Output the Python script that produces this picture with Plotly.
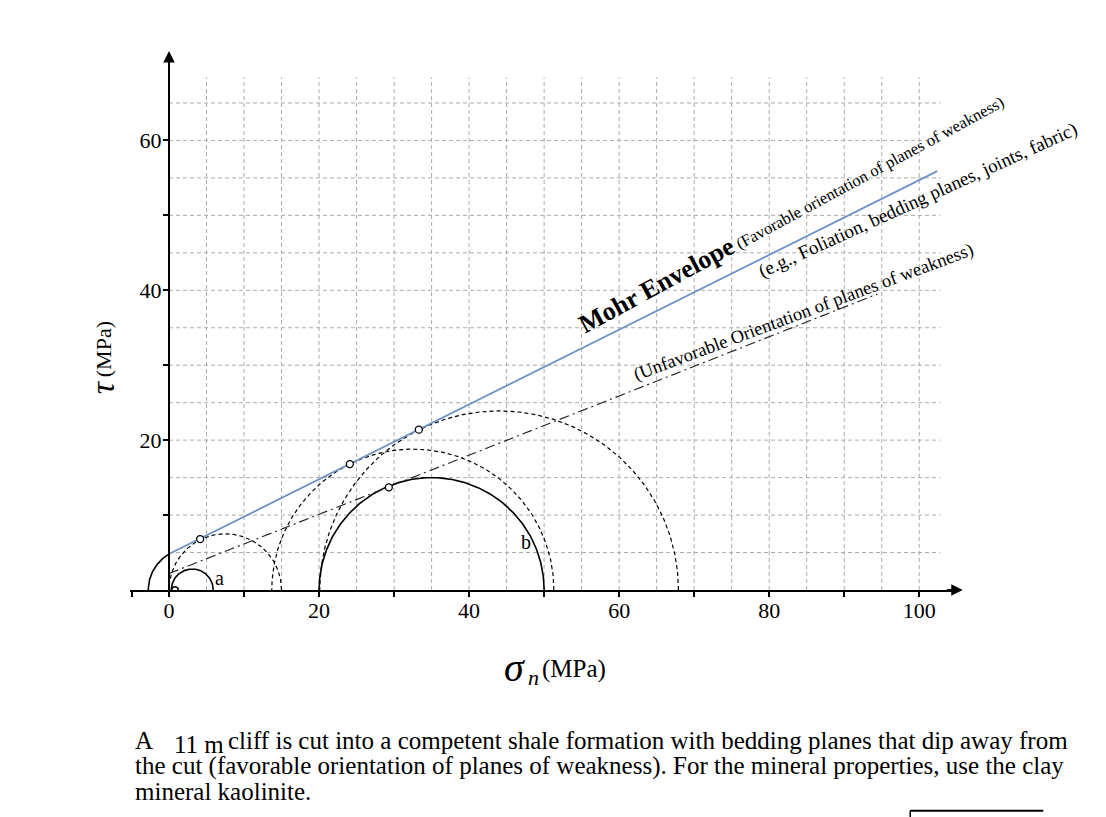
import numpy as np
import plotly.graph_objects as go

# ---------------- data ----------------
x_tick_vals = [-5, 0, 10, 20, 30, 40, 50, 60, 70, 80, 90, 100]
x_tick_text = ["", "0", "", "20", "", "40", "", "60", "", "80", "", "100"]
y_tick_vals = [10, 20, 30, 40, 50, 60]
y_tick_text = ["", "20", "", "40", "", "60"]
grid_x = [5, 10, 15, 20, 25, 30, 35, 40, 45, 50, 55, 60, 65, 70, 75, 80, 85, 90, 95, 100]
grid_y = [5, 10, 15, 20, 25, 30, 35, 40, 45, 50, 55, 60, 65]
grid_x_top = 68.4
grid_y_right = 102.8

solid_centers = [0.8, 3.1, 35.0]
solid_radii = [0.45, 2.8, 15.0]
dashed_centers = [7.5, 32.5, 44.0]
dashed_radii = [7.5, 18.8, 23.9]
tension_center = 2.79
tension_radius = 5.55

envelope_cohesion = 4.8
envelope_slope = 0.499
envelope_end = 102.4
unfav_intercept = 2.2
unfav_slope = 0.395
unfav_end = 94.4

tangent_x = [4.15, 24.1, 33.3, 29.3]
tangent_y = [6.8, 16.8, 21.4, 13.7]

X_RANGE = [-5.2, 104.5]
Y_RANGE = [0, 71]
X_ARROW_TIP = 105.8
Y_ARROW_TIP = 71.95

FONT = "Liberation Serif, Times New Roman, serif"

# ---------------- figure ----------------
W, H = 1106, 817
OFFX, OFFY = 8, 8.5          # page margin of the browser body
L, T = 130 - OFFX, 58.5 - OFFY
PW = (X_RANGE[1] - X_RANGE[0]) * 7.5
PH = (Y_RANGE[1] - Y_RANGE[0]) * 7.5
R = W - L - PW
B = H - T - PH


def px_to_paper(px, py):
    fx, fy = px - OFFX, py - OFFY
    return (fx - L) / PW, (T + PH - fy) / PH


fig = go.Figure()

# grid
gx, gy = [], []
for v in grid_x:
    gx += [v, v, None]
    gy += [0, grid_x_top, None]
for v in grid_y:
    gx += [0, grid_y_right, None]
    gy += [v, v, None]
fig.add_trace(go.Scatter(x=gx, y=gy, mode="lines", hoverinfo="skip",
                         line=dict(color="#ababab", width=1, dash="4px,3px")))

th = np.linspace(0, np.pi, 300)
for c, r in zip(dashed_centers, dashed_radii):
    fig.add_trace(go.Scatter(x=c + r * np.cos(th), y=r * np.sin(th), mode="lines",
                             line=dict(color="black", width=1.2, dash="4px,3px")))
for c, r in zip(solid_centers, solid_radii):
    fig.add_trace(go.Scatter(x=c + r * np.cos(th), y=r * np.sin(th), mode="lines",
                             line=dict(color="black", width=1.6)))
# tension arc (only the part left of the tau axis)
th_t = np.linspace(np.arccos(-tension_center / tension_radius), np.pi, 100)
fig.add_trace(go.Scatter(x=tension_center + tension_radius * np.cos(th_t),
                         y=tension_radius * np.sin(th_t), mode="lines",
                         line=dict(color="black", width=1.6)))

# unfavorable line
ux = np.array([0, unfav_end])
fig.add_trace(go.Scatter(x=ux, y=unfav_intercept + unfav_slope * ux, mode="lines",
                         line=dict(color="#222222", width=1.15, dash="10px,4px,2px,4px")))
# Mohr envelope
ex = np.array([0, envelope_end])
fig.add_trace(go.Scatter(x=ex, y=envelope_cohesion + envelope_slope * ex, mode="lines",
                         line=dict(color="#6c92c6", width=1.8), cliponaxis=False))

# tangent points
fig.add_trace(go.Scatter(x=tangent_x, y=tangent_y, mode="markers",
                         marker=dict(symbol="circle", size=7, color="white",
                                     line=dict(color="black", width=1.3))))

ann = []
# axis arrow heads
ann.append(dict(x=X_ARROW_TIP, y=0, ax=X_RANGE[1] - 1, ay=0, axref="x", ayref="y",
                showarrow=True, arrowhead=2, arrowsize=1.15, arrowwidth=2,
                arrowcolor="black", text=""))
ann.append(dict(x=0, y=Y_ARROW_TIP, ax=0, ay=Y_RANGE[1] - 1, axref="x", ayref="y",
                showarrow=True, arrowhead=2, arrowsize=1.15, arrowwidth=2,
                arrowcolor="black", text=""))

ann.append(dict(x=6.7, y=1.6, text="a", showarrow=False, font=dict(size=20)))
ann.append(dict(x=47.6, y=6.4, text="b", showarrow=False, font=dict(size=20)))
ann.append(dict(x=82.85, y=50.4, textangle=-28.5, showarrow=False,
                text='<span style="font-size:26px"><b>Mohr Envelope</b></span> (Favorable orientation of planes of weakness)',
                font=dict(size=16.5)))
ann.append(dict(x=99.9, y=52.1, textangle=-24.5, showarrow=False,
                text="(e.g., Foliation, bedding planes, joints, fabric)",
                font=dict(size=19)))
ann.append(dict(x=84.56, y=37.1, textangle=-20.5, showarrow=False,
                text="(Unfavorable Orientation of planes of weakness)",
                font=dict(size=18.5)))

# axis titles (reference pixel positions)
axis_title_parts = [
    (514, 669, "<i>σ</i>", 40, 0),
    (533, 679, "<i>n</i>", 22, 0),
    (574, 670, "(MPa)", 25, 0),
    (102, 388, "<i>τ</i>", 34, -90),
    (103, 350, "(MPa)", 22, -90),
]
for (qx, qy, t, s, ang) in axis_title_parts:
    px, py = px_to_paper(qx, qy)
    ann.append(dict(x=px, y=py, xref="paper", yref="paper", xanchor="center",
                    yanchor="middle", showarrow=False,
                    text=t, textangle=ang, font=dict(size=s)))

# paragraph
para = [
    (133, 742, "A"),
    (172, 746, "11 m"),
    (226, 742, "cliff is cut into a competent shale formation with bedding planes that dip away from"),
    (133, 767, "the cut (favorable orientation of planes of weakness). For the mineral properties, use the clay"),
    (133, 793, "mineral kaolinite."),
]
for (qx, qy, t) in para:
    px, py = px_to_paper(qx, qy)
    ann.append(dict(x=px, y=py, xref="paper", yref="paper", xanchor="left", yanchor="middle",
                    showarrow=False, text=t, font=dict(size=25)))

for a in ann:
    a.setdefault("font", {})
    a["font"].setdefault("family", FONT)
    a["font"].setdefault("color", "black")
fig.update_layout(annotations=ann)

# partially visible box at bottom right
x0, y0 = px_to_paper(910, 812)
x1, _ = px_to_paper(1043, 812)
_, y2 = px_to_paper(910, 822)
fig.add_shape(type="line", xref="paper", yref="paper", x0=x0, y0=y0, x1=x1, y1=y0,
              line=dict(color="black", width=2))
fig.add_shape(type="line", xref="paper", yref="paper", x0=x0, y0=y0, x1=x0, y1=y2,
              line=dict(color="black", width=1.5))

fig.update_layout(
    width=W, height=H, template="none",
    margin=dict(l=L, r=R, t=T, b=B, pad=0),
    paper_bgcolor="white", plot_bgcolor="white",
    showlegend=False,
    font=dict(family=FONT, size=22, color="black"),
    xaxis=dict(range=X_RANGE, showgrid=False, zeroline=False, showline=True,
               linecolor="black", linewidth=2, ticks="outside", ticklen=5, tickwidth=2,
               tickcolor="black", tickvals=x_tick_vals, ticktext=x_tick_text,
               ticklabelstandoff=-5,
               tickfont=dict(family=FONT, size=22), automargin=False, fixedrange=True),
    yaxis=dict(range=Y_RANGE, showgrid=False, zeroline=False, showline=True,
               linecolor="black", linewidth=2, ticks="outside", ticklen=5, tickwidth=2,
               tickcolor="black", tickvals=y_tick_vals, ticktext=y_tick_text,
               ticklabelstandoff=-3,
               tickfont=dict(family=FONT, size=22), anchor="free",
               position=(0 - X_RANGE[0]) / (X_RANGE[1] - X_RANGE[0]),
               automargin=False, fixedrange=True),
)

fig.write_html("out.html")
